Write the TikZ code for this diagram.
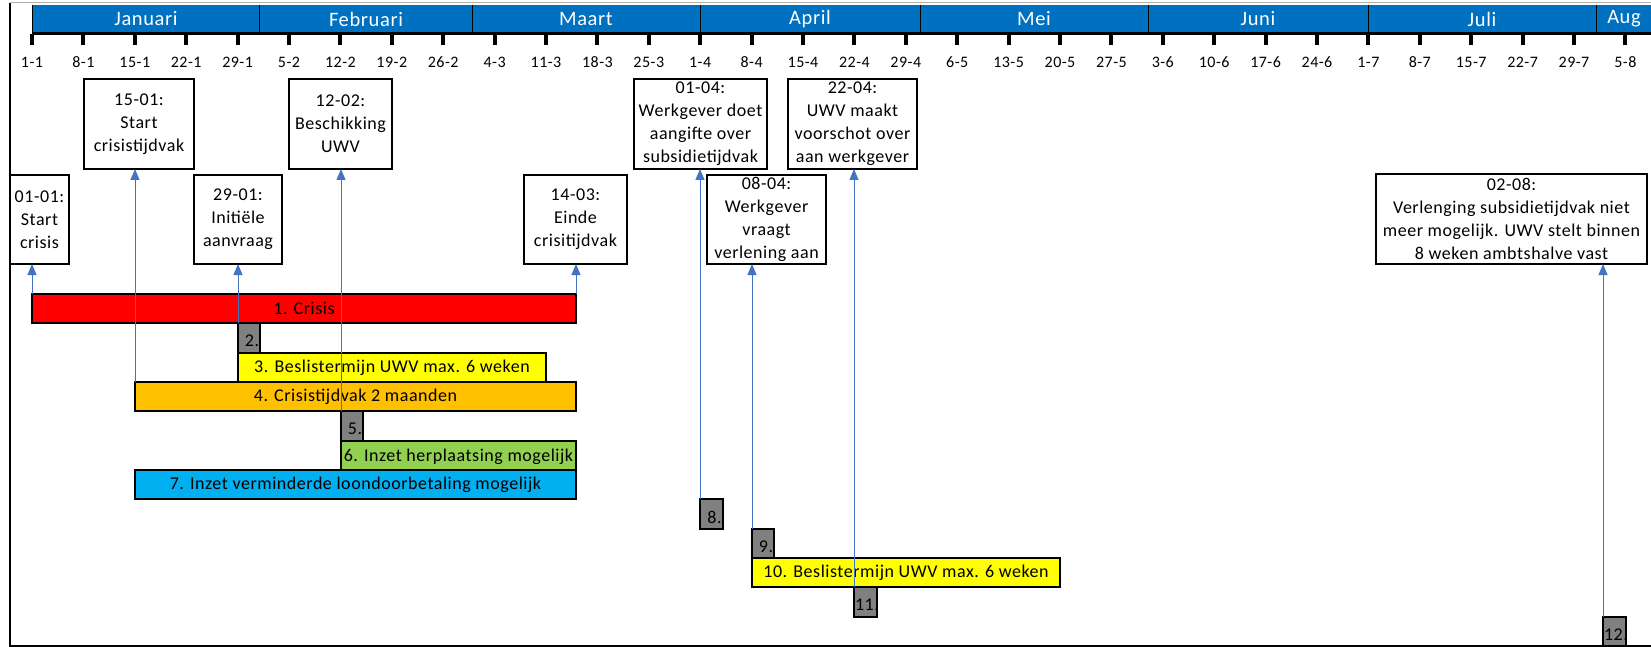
\documentclass[tikz,border=0pt]{standalone}
\usepackage{fontspec}
\setmainfont{Carlito}[LetterSpace=3]
\usetikzlibrary{arrows.meta}
\definecolor{hdr}{HTML}{0070C0}
\definecolor{conn}{HTML}{4472C4}
\definecolor{cRed}{HTML}{FF0000}
\definecolor{cYel}{HTML}{FFFF00}
\definecolor{cOra}{HTML}{FFC000}
\definecolor{cGre}{HTML}{92D050}
\definecolor{cBlu}{HTML}{00B0F0}
\definecolor{cGry}{HTML}{808080}
\begin{document}
\begin{tikzpicture}[x=1pt,y=-1pt,
  evbox/.style={draw=black,line width=1.8pt,fill=white,inner sep=0pt,outer sep=0pt,align=center,font=\fontsize{18}{23}\selectfont},
  barbox/.style={draw=black,line width=1.8pt,inner sep=0pt,outer sep=0pt,anchor=north west,font=\fontsize{18}{22}\selectfont},
  gbox/.style={barbox,fill=cGry,minimum width=22pt,minimum height=29.3pt},
  gtext/.style={draw=none,fill=none,anchor=west,inner sep=0pt,font=\fontsize{18}{22}\selectfont},
  arr/.style={draw=conn,line width=1pt,-{Triangle[length=11pt,width=9pt]}},
  monthlab/.style={text=white,font=\fontsize{20.5}{24}\selectfont,inner sep=0pt},
  ticklab/.style={font=\fontsize{16}{19}\selectfont,inner sep=0pt},
  monthsep/.style={draw=black,line width=1pt}
]
\useasboundingbox (0,0) rectangle (1651,647);
% frame
\draw[gray!60,line width=1pt] (10,3) -- (1651,3);
\draw[line width=1.5pt] (10,3) -- (10,646) -- (1651,646);
% header
\fill[hdr] (32,5) rectangle (1651,33);
\foreach \mx in {32,259.6,472.6,700.2,920.5,1148.1,1368.4,1596.1}
  \draw[monthsep] (\mx,5) -- (\mx,33);
\draw[line width=3pt] (32,34) -- (1651,34);
\node[monthlab] (mjan) at (146,19) {Januari};
\node[monthlab] (mfeb) at (366,19) {Februari};
\node[monthlab] (mmar) at (586,19) {Maart};
\node[monthlab] (mapr) at (810,19) {April};
\node[monthlab] (mmei) at (1034,19) {Mei};
\node[monthlab] (mjun) at (1258,19) {Juni};
\node[monthlab] (mjul) at (1482,19) {Juli};
\node[monthlab] (maug) at (1624,19) {Aug};
\foreach \lab [count=\i from 0] in {1-1,8-1,15-1,22-1,29-1,5-2,12-2,19-2,26-2,4-3,11-3,18-3,25-3,1-4,8-4,15-4,22-4,29-4,6-5,13-5,20-5,27-5,3-6,10-6,17-6,24-6,1-7,8-7,15-7,22-7,29-7,5-8}{
  \fill ({32+\i*51.4-2},34) rectangle ({32+\i*51.4+2},45);
  \node[ticklab] (t\i) at ({32+\i*51.4},62) {\lab};
}
% event boxes
\node[evbox,minimum width=110pt,minimum height=90pt] (b1501) at (139,124) {15-01:\\Start\\crisistijdvak};
\node[evbox,minimum width=103pt,minimum height=90pt] (b1202) at (340.5,124) {12-02:\\Beschikking\\UWV};
\node[evbox,minimum width=133pt,minimum height=90pt] (b0104) at (700.5,124) {01-04:\\Werkgever doet\\aangifte over\\subsidietijdvak};
\node[evbox,minimum width=129pt,minimum height=90pt] (b2204) at (852.5,124) {22-04:\\UWV maakt\\voorschot over\\aan werkgever};
\node[evbox,minimum width=59pt,minimum height=89pt] (b0101) at (39.5,219.5) {01-01:\\Start\\crisis};
\node[evbox,minimum width=88pt,minimum height=89pt] (b2901) at (238,219.5) {29-01:\\Initiële\\aanvraag};
\node[evbox,minimum width=103pt,minimum height=89pt] (b1403) at (575.5,219.5) {14-03:\\Einde\\crisitijdvak};
\node[evbox,minimum width=119pt,minimum height=89pt] (b0804) at (766.5,219.5) {08-04:\\Werkgever\\vraagt\\verlening aan};
\node[evbox,minimum width=271pt,minimum height=90pt] (b0208) at (1511.5,219) {02-08:\\Verlenging subsidietijdvak niet\\meer mogelijk. UWV stelt binnen\\8 weken ambtshalve vast};
% bars
\node[barbox,fill=cRed,minimum width=544pt,minimum height=29.3pt] (bar1) at (32,294) {1. Crisis};
\node[gbox,path picture={\node[gtext] at ([xshift=3pt,yshift=-3pt]path picture bounding box.west) {2.};}] (g2) at (238,323.3) {};
\node[barbox,fill=cYel,minimum width=308pt,minimum height=29.3pt] (bar3) at (238,352.7) {3. Beslistermijn UWV max. 6 weken};
\node[barbox,fill=cOra,minimum width=441pt,minimum height=29.3pt] (bar4) at (135,382) {4. Crisistijdvak 2 maanden};
\node[gbox,path picture={\node[gtext] at ([xshift=3pt,yshift=-3pt]path picture bounding box.west) {5.};}] (g5) at (341,411.3) {};
\node[barbox,fill=cGre,minimum width=235pt,minimum height=29.3pt,path picture={\node[gtext,anchor=center] at ([yshift=-1pt]path picture bounding box.center) {6. Inzet herplaatsing mogelijk};}] (bar6) at (341,440.7) {};
\node[barbox,fill=cBlu,minimum width=441pt,minimum height=29.3pt] (bar7) at (135,470) {7. Inzet verminderde loondoorbetaling mogelijk};
\node[gbox,minimum width=23pt,path picture={\node[gtext] at ([xshift=3pt,yshift=-3pt]path picture bounding box.west) {8.};}] (g8) at (700,499.3) {};
\node[gbox,path picture={\node[gtext] at ([xshift=3pt,yshift=-3pt]path picture bounding box.west) {9.};}] (g9) at (752,528.7) {};
\node[barbox,fill=cYel,minimum width=308pt,minimum height=29.3pt] (bar10) at (752,558) {10. Beslistermijn UWV max. 6 weken};
\node[gbox,minimum width=23pt,path picture={\node[gtext] at ([xshift=1pt,yshift=-3pt]path picture bounding box.west) {11.};}] (g11) at (854,587.3) {};
\node[gbox,minimum width=23pt,path picture={\node[gtext] at ([xshift=1pt,yshift=-3pt]path picture bounding box.west) {12.};}] (g12) at (1603,616.7) {};
% connectors
\draw[arr] (bar1.north west) -- (bar1.north west |- b0101.south);
\draw[arr] (bar4.north west) -- (bar4.north west |- b1501.south);
\draw[arr] (g2.north west) -- (g2.north west |- b2901.south);
\draw[arr] (g5.north west) -- (g5.north west |- b1202.south);
\draw[arr] (bar1.north east) -- (bar1.north east |- b1403.south);
\draw[arr] (g8.north west) -- (g8.north west |- b0104.south);
\draw[arr] (g9.north west) -- (g9.north west |- b0804.south);
\draw[arr] (g11.north west) -- (g11.north west |- b2204.south);
\draw[arr] (g12.north west) -- (g12.north west |- b0208.south);
\end{tikzpicture}
\end{document}
